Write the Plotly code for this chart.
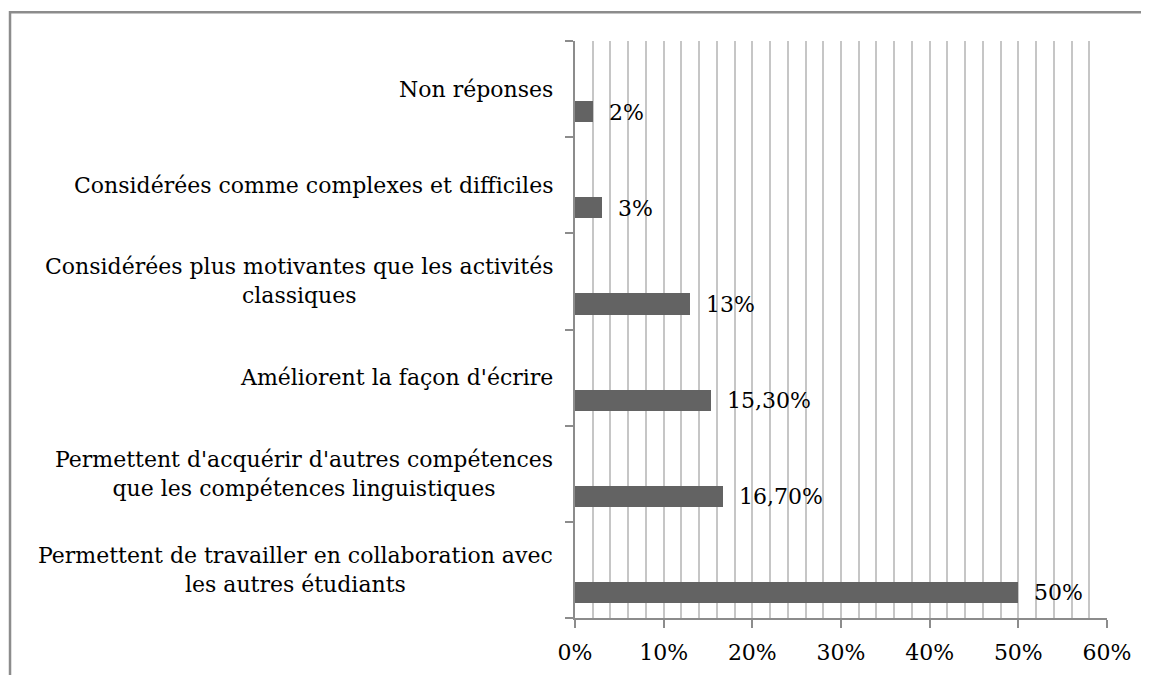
import plotly.graph_objects as go

# categories from bottom to top
categories = [
    "Permettent de travailler en collaboration avec<br>les autres étudiants",
    "Permettent d'acquérir d'autres compétences<br>que les compétences linguistiques",
    "Améliorent la façon d'écrire",
    "Considérées plus motivantes que les activités<br>classiques",
    "Considérées comme complexes et difficiles",
    "Non réponses",
]
values = [0.50, 0.167, 0.153, 0.13, 0.03, 0.02]
value_labels = ["50%", "16,70%", "15,30%", "13%", "3%", "2%"]

serif = "DejaVu Serif, serif"
axis_grey = "#8c8c8c"
grid_grey = "#c6c6c6"

fig = go.Figure()
fig.add_trace(go.Bar(
    x=values, y=categories, orientation="h",
    marker=dict(color="#636363", line=dict(width=0)),
    width=0.22, offset=-0.345,
    hoverinfo="skip",
))

# category labels (centered multi-line, right edge next to the axis)
for cat in categories:
    fig.add_annotation(x=0, xref="paper", y=cat, yref="y", text=cat,
                       xanchor="right", yanchor="middle", align="center",
                       xshift=-20, showarrow=False,
                       font=dict(family=serif, size=22, color="black"))

# value labels right of the bars
for cat, v, lab in zip(categories, values, value_labels):
    fig.add_annotation(x=v, y=cat, text=lab, xanchor="left", yanchor="middle",
                       xshift=14, yshift=-23, showarrow=False,
                       font=dict(family=serif, size=22, color="black"))

# outer frame, cut by the image edges
fig.add_shape(type="rect", xref="paper", yref="paper",
              x0=-1.062, x1=1.12, y0=-0.2, y1=1.05,
              line=dict(color=axis_grey, width=2.5), layer="below")

fig.update_xaxes(
    range=[0, 0.6], dtick=0.1, tickformat=".0%",
    showgrid=True, gridcolor=grid_grey, gridwidth=2,
    minor=dict(dtick=0.02, showgrid=True, gridcolor=grid_grey, gridwidth=2),
    showline=True, linecolor=axis_grey, linewidth=2,
    ticks="outside", ticklen=8, tickwidth=2, tickcolor=axis_grey,
    ticklabelstandoff=6, automargin=False,
    tickfont=dict(family=serif, size=22, color="black"),
    zeroline=False, fixedrange=True,
)
fig.update_yaxes(
    type="category", range=[-0.5, 5.5], showgrid=False,
    showline=True, linecolor=axis_grey, linewidth=2,
    ticks="outside", ticklen=8, tickwidth=2, tickcolor=axis_grey,
    tickson="boundaries", showticklabels=False, fixedrange=True,
    automargin=False,
)
fig.update_layout(
    width=1141, height=667,
    margin=dict(l=567, r=42, t=33, b=57),
    plot_bgcolor="white", paper_bgcolor="white",
    showlegend=False, bargap=0,
)
fig.write_html("out.html")
